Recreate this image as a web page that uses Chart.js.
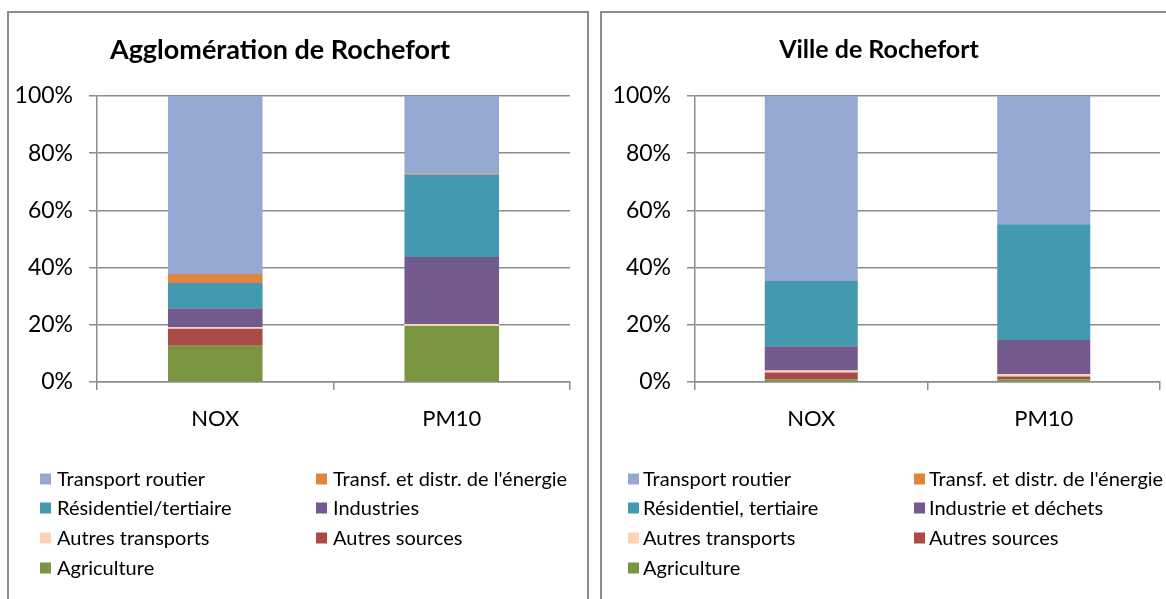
<!DOCTYPE html>
<html><head><meta charset="utf-8">
<script src="https://cdn.jsdelivr.net/npm/chart.js@4.4.1/dist/chart.umd.min.js"></script>
<style>
html,body{margin:0;padding:0;background:#fff;overflow:hidden;width:1166px;height:599px}
.frame{position:absolute;border:2px solid #8c8c8c;box-sizing:border-box}
canvas{position:absolute;top:0}
</style></head><body>
<div class="frame" style="left:7px;top:11px;width:582px;height:640px"></div>
<div class="frame" style="left:600px;top:11px;width:600px;height:640px"></div>
<canvas id="c1" width="590" height="599" style="left:0"></canvas>
<canvas id="c2" width="576" height="599" style="left:590px"></canvas>
<script>
const categories = ['NOX', 'PM10'];
const percentTicks = [0, 20, 40, 60, 80, 100];

const aggloTitle = 'Agglomération de Rochefort';
const villeTitle = 'Ville de Rochefort';

const aggloNames = ['Agriculture', 'Autres sources', 'Autres transports', 'Industries', 'Résidentiel/tertiaire', "Transf. et distr. de l'énergie", 'Transport routier'];
const villeNames = ['Agriculture', 'Autres sources', 'Autres transports', 'Industrie et déchets', 'Résidentiel, tertiaire', "Transf. et distr. de l'énergie", 'Transport routier'];

const aggloAgriculture = [12.7, 19.6];
const aggloAutresSources = [5.9, 0.0];
const aggloAutresTransports = [0.5, 0.7];
const aggloIndustries = [6.7, 23.4];
const aggloResidentiel = [8.8, 28.8];
const aggloEnergie = [3.2, 0.3];
const aggloRoutier = [62.2, 27.2];

const villeAgriculture = [1.0, 1.0];
const villeAutresSources = [2.3, 0.9];
const villeAutresTransports = [0.7, 0.9];
const villeIndustrie = [8.5, 11.9];
const villeResidentiel = [22.8, 40.5];
const villeEnergie = [0.0, 0.0];
const villeRoutier = [64.7, 44.8];

const sectorColors = ['#799540', '#aa4a47', '#fad3b6', '#725a8f', '#4299b0', '#df853e', '#95a8d1'];

const FONT = 'Lato, "Liberation Sans", sans-serif';
const GRID = '#8c8c8c';

function decoPlugin(p) {
  return {
    id: 'deco',
    afterDraw(chart) {
      const ctx = chart.ctx;
      ctx.save();
      ctx.fillStyle = '#000';
      ctx.font = 'bold ' + p.titleSize + 'px ' + FONT;
      ctx.textAlign = 'center';
      ctx.textBaseline = 'middle';
      ctx.fillText(p.title, p.titleX, p.titleY);
      ctx.font = '20px ' + FONT;
      ctx.textAlign = 'left';
      const order = [6, 5, 4, 3, 2, 1, 0];
      order.forEach((di, i) => {
        const ds = chart.data.datasets[di];
        const col = i % 2, row = Math.floor(i / 2);
        const sx = p.legX[col], y = p.legY[row];
        ctx.fillStyle = ds.backgroundColor;
        ctx.fillRect(sx, y - 5.5, 11, 11);
        ctx.fillStyle = '#000';
        ctx.fillText(ds.label, sx + p.gap, y + 1);
      });
      ctx.restore();
    }
  };
}

function build(id, names, series, p) {
  const datasets = series.map((vals, i) => ({
    label: names[i],
    data: vals,
    backgroundColor: sectorColors[i],
    borderWidth: 0,
    categoryPercentage: 1,
    barPercentage: 0.4
  }));
  new Chart(document.getElementById(id), {
    type: 'bar',
    data: { labels: categories, datasets },
    options: {
      responsive: false,
      animation: false,
      layout: { padding: { left: p.padLeft, right: p.padRight, top: 96, bottom: 599 - 382 - 60 } },
      plugins: { legend: { display: false }, title: { display: false }, tooltip: { enabled: false } },
      scales: {
        x: {
          stacked: true,
          afterFit: s => { s.height = 60; },
          grid: { display: true, drawOnChartArea: false, drawTicks: true, tickLength: 8, color: GRID, lineWidth: 1.5, offset: true },
          border: { display: true, color: GRID, width: 1.5 },
          ticks: { color: '#000', font: { family: FONT, size: 22 }, padding: 16 }
        },
        y: {
          stacked: true,
          min: 0, max: 100,
          afterFit: s => { s.width = p.axisW; },
          afterBuildTicks: s => { s.ticks = percentTicks.map(v => ({ value: v })); },
          grid: { color: GRID, lineWidth: 1.5, drawTicks: true, tickLength: 8 },
          border: { display: true, color: GRID, width: 1.5 },
          ticks: { color: '#000', font: { family: FONT, size: 23 }, padding: 16, callback: v => v + '%' }
        }
      }
    },
    plugins: [decoPlugin(p)]
  });
}

build('c1', aggloNames,
  [aggloAgriculture, aggloAutresSources, aggloAutresTransports, aggloIndustries, aggloResidentiel, aggloEnergie, aggloRoutier],
  { padLeft: 10, axisW: 87, padRight: 20, title: aggloTitle, titleSize: 27, titleX: 280, titleY: 50, legX: [40, 316], gap: 17, legY: [479, 508, 538, 568] });

build('c2', villeNames,
  [villeAgriculture, villeAutresSources, villeAutresTransports, villeIndustrie, villeResidentiel, villeEnergie, villeRoutier],
  { padLeft: 10, axisW: 95, padRight: 6, title: villeTitle, titleSize: 25, titleX: 289, titleY: 50, legX: [38, 324], gap: 15, legY: [479, 508, 538, 568] });
</script>
</body></html>
